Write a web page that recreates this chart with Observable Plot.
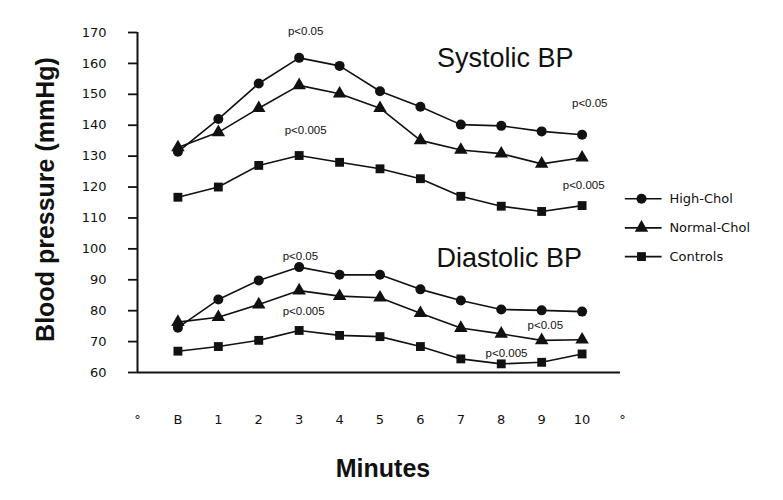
<!DOCTYPE html>
<html>
<head>
<meta charset="utf-8">
<script src="https://cdn.jsdelivr.net/npm/d3@7"></script>
<script src="https://cdn.jsdelivr.net/npm/@observablehq/plot@0.6"></script>
<style>
  html, body { margin: 0; padding: 0; background: #fff; }
  #chart svg { display: block; }
</style>
</head>
<body>
<div id="chart"></div>
<script>
// ---- data ----
const minutes = ["B", "1", "2", "3", "4", "5", "6", "7", "8", "9", "10"];
const xTickLabels = ["°", "B", "1", "2", "3", "4", "5", "6", "7", "8", "9", "10", "°"];
const xTicks = [0, 1, 2, 3, 4, 5, 6, 7, 8, 9, 10, 11, 12];
const yTicks = [60, 70, 80, 90, 100, 110, 120, 130, 140, 150, 160, 170];

const seriesNames = ["High-Chol", "Normal-Chol", "Controls"];
const seriesSymbols = ["circle", "triangle", "square"];

const systolicHigh     = [131.4, 142.0, 153.5, 161.8, 159.2, 151.0, 146.0, 140.2, 139.8, 138.0, 136.9];
const systolicNormal   = [132.8, 137.7, 145.5, 152.9, 150.2, 145.5, 135.1, 132.0, 130.8, 127.5, 129.5];
const systolicControls = [116.7, 120.0, 127.0, 130.2, 128.0, 125.9, 122.7, 117.0, 113.8, 112.1, 114.0];

const diastolicHigh     = [74.5, 83.6, 89.8, 94.1, 91.6, 91.6, 86.9, 83.3, 80.4, 80.1, 79.7];
const diastolicNormal   = [76.3, 77.9, 82.0, 86.5, 84.7, 84.2, 79.2, 74.4, 72.5, 70.4, 70.6];
const diastolicControls = [66.9, 68.4, 70.4, 73.6, 72.0, 71.6, 68.4, 64.4, 62.8, 63.3, 66.0];

const pLabels = ["p<0.05", "p<0.005", "p<0.05", "p<0.005", "p<0.05", "p<0.005", "p<0.05", "p<0.005"];
const pX      = [4.16, 4.16, 11.19, 11.04, 4.03, 4.11, 10.09, 9.13];
const pY      = [170.3, 138.5, 147.1, 120.5, 97.5, 79.7, 75.2, 66.2];

const titleTexts = ["Systolic BP", "Diastolic BP"];
const titleX = [7.41, 7.40];
const titleY = [158.8, 94.07];

const legendY = [116.2, 106.8, 97.5];
const legendLineX = [12.07, 12.98];
const legendSymbolX = 12.47;
const legendTextX = 13.16;

// ---- build table ----
const groups = [
  {measure: "Systolic", series: "High-Chol", values: systolicHigh},
  {measure: "Systolic", series: "Normal-Chol", values: systolicNormal},
  {measure: "Systolic", series: "Controls", values: systolicControls},
  {measure: "Diastolic", series: "High-Chol", values: diastolicHigh},
  {measure: "Diastolic", series: "Normal-Chol", values: diastolicNormal},
  {measure: "Diastolic", series: "Controls", values: diastolicControls}
];
const rows = [];
for (const g of groups) {
  g.values.forEach((v, i) => {
    rows.push({
      minute: minutes[i],
      x: xTickLabels.indexOf(minutes[i]),
      value: v,
      series: g.series,
      key: g.measure + "-" + g.series
    });
  });
}

const ink = "#111";
const sans = "Liberation Sans, Arial, Helvetica, sans-serif";
const tickFont = "DejaVu Sans, sans-serif";

const chart = Plot.plot({
  width: 783,
  height: 500,
  marginLeft: 137,
  marginRight: 161,
  marginTop: 32,
  marginBottom: 128,
  x: {domain: [0, 12]},
  y: {domain: [60, 170]},
  symbol: {domain: seriesNames, range: seriesSymbols},
  style: {background: "#fff", color: ink, fontFamily: tickFont, overflow: "visible"},
  marks: [
    Plot.axisY({ticks: yTicks, tickSize: 9, tickPadding: 22, fontSize: 13, strokeWidth: 1.8, label: null}),
    Plot.axisX({ticks: xTicks, tickFormat: (i) => xTickLabels[i], tickSize: 0, tickPadding: 42, fontSize: 13, label: null}),
    Plot.ruleX([0], {y1: 60, y2: 170, stroke: ink, strokeWidth: 2}),
    Plot.ruleY([60], {x1: 0, x2: 11.95, stroke: ink, strokeWidth: 2}),
    Plot.line(rows, {x: "x", y: "value", z: "key", stroke: ink, strokeWidth: 1.6}),
    Plot.dot(rows, {x: "x", y: "value", symbol: "series", fill: ink, stroke: "none", r: 5}),
    Plot.text(pLabels, {x: (d, i) => pX[i], y: (d, i) => pY[i], text: (d) => d, fontSize: 11.5, fontFamily: sans, fill: ink, lineAnchor: "middle"}),
    Plot.text(titleTexts, {x: (d, i) => titleX[i], y: (d, i) => titleY[i], text: (d) => d, textAnchor: "start", lineAnchor: "bottom", fontSize: 27, fontFamily: sans, fill: ink}),
    Plot.ruleY(legendY, {x1: legendLineX[0], x2: legendLineX[1], stroke: ink, strokeWidth: 1.6}),
    Plot.dot(seriesNames, {x: legendSymbolX, y: (d, i) => legendY[i], symbol: (d) => d, fill: ink, stroke: "none", r: 5}),
    Plot.text(seriesNames, {x: legendTextX, y: (d, i) => legendY[i], text: (d) => d, textAnchor: "start", lineAnchor: "middle", fontSize: 13, fontFamily: tickFont, fill: ink}),
    Plot.text(["Blood pressure (mmHg)"], {frameAnchor: "left", text: (d) => d, rotate: -90, textAnchor: "middle", dx: -84, dy: -3, lineAnchor: "bottom", fontSize: 25, fontWeight: "bold", fontFamily: sans, fill: ink}),
    Plot.text(["Minutes"], {frameAnchor: "bottom", text: (d) => d, textAnchor: "middle", dx: 3, dy: 104.7, lineAnchor: "bottom", fontSize: 25, fontWeight: "bold", fontFamily: sans, fill: ink})
  ]
});
document.getElementById("chart").appendChild(chart);
</script>
</body>
</html>
